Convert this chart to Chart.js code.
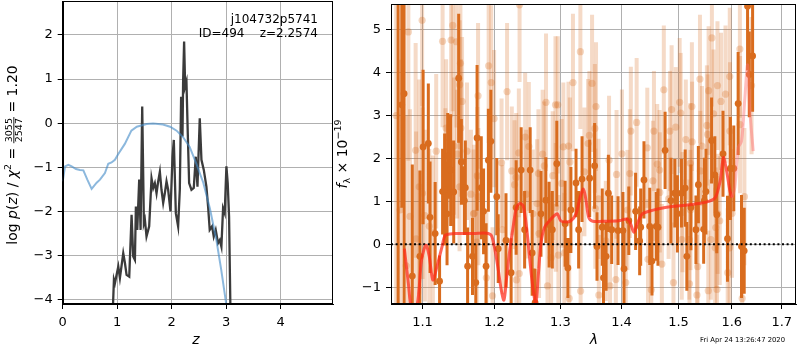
<!DOCTYPE html>
<html>
<head>
<meta charset="utf-8">
<script src="https://cdn.jsdelivr.net/npm/chart.js@4.4.0/dist/chart.umd.min.js"></script>
<style>
  html, body { margin: 0; padding: 0; background: #fff; }
  #wrap { position: relative; width: 800px; height: 350px; overflow: hidden; }
  canvas { position: absolute; top: 0; }
</style>
</head>
<body>
<div id="wrap">
  <canvas id="pz" width="340" height="350" style="left:0"></canvas>
  <canvas id="spec" width="472" height="350" style="left:328px"></canvas>
</div>
<script>
// ---- left panel: log p(z) ----
const zTicks = [0, 1, 2, 3, 4];
const logpTicks = [-4, -3, -2, -1, 0, 1, 2];

// prior / template p(z) (light blue)
const pzBlueZ = [0, 0.043, 0.104, 0.165, 0.244, 0.317, 0.379, 0.452, 0.531, 0.623, 0.684, 0.775, 0.836, 0.897, 0.958,
  1.02, 1.14, 1.26, 1.36, 1.54, 1.66, 1.84, 1.97, 2.09, 2.21, 2.33, 2.45, 2.58, 2.70, 2.82, 2.91, 2.99, 3.03];
const pzBlueLog = [-1.32, -0.98, -0.945, -0.98, -1.04, -1.06, -1.07, -1.28, -1.49, -1.35, -1.28, -1.13, -0.92, -0.89, -0.83,
  -0.70, -0.47, -0.17, -0.08, -0.02, -0.01, -0.03, -0.08, -0.17, -0.32, -0.54, -0.91, -1.35, -1.93, -2.65, -3.33, -4.01, -4.31];

// fitted log p(z) (dark)
const pzDarkZ = [0.912, 0.940, 0.958, 1.020, 1.050, 1.111, 1.142, 1.172, 1.221, 1.264, 1.294, 1.325, 1.343, 1.368, 1.404,
  1.429, 1.459, 1.490, 1.508, 1.538, 1.587, 1.630, 1.661, 1.691, 1.722, 1.752, 1.783, 1.813, 1.844, 1.874, 1.905, 1.935,
  1.978, 2.015, 2.039, 2.076, 2.118, 2.149, 2.173, 2.198, 2.210, 2.228, 2.247, 2.271, 2.295, 2.320, 2.363, 2.405, 2.442,
  2.473, 2.515, 2.546, 2.589, 2.637, 2.668, 2.698, 2.741, 2.772, 2.808, 2.851, 2.882, 2.912, 2.943, 2.973, 3.004, 3.028,
  3.053, 3.077, 3.095];
const pzDarkLog = [-4.5, -3.55, -3.63, -3.25, -3.51, -2.95, -3.17, -3.44, -3.48, -2.08, -3.02, -3.10, -1.89, -2.42, -1.28,
  -2.42, 0.38, -2.27, -2.19, -2.57, -2.34, -1.25, -1.47, -1.36, -1.59, -1.32, -1.10, -1.51, -1.81, -1.59, -1.32, -1.51,
  -2.00, -0.76, -0.38, -2.04, -2.34, -1.51, 0.60, -0.30, 0.98, 1.85, 0.83, 0.94, -0.23, -1.36, -1.51, -1.47, -0.76,
  -1.44, 0.11, -0.83, -1.06, -1.44, -1.89, -2.42, -2.34, -2.57, -2.42, -2.72, -2.65, -2.80, -1.93, -2.04, -0.98, -1.36,
  -2.12, -4.16, -4.7];

// ---- right panel: spectrum ----
const lamTicks = [1.1, 1.2, 1.3, 1.4, 1.5, 1.6, 1.7];
const fluxTicks = [-1, 0, 1, 2, 3, 4, 5];

// binned spectrum points (dark orange)
const darkLam = [1.068, 1.0727, 1.0757, 1.0865, 1.0965, 1.1008, 1.1078, 1.123, 1.1271, 1.1299, 1.1341, 1.1382, 1.1424,
  1.1493, 1.153, 1.1572, 1.1618, 1.1687, 1.1734, 1.1752, 1.1845, 1.1881, 1.1914, 1.195, 1.2036, 1.2057, 1.2247, 1.2397,
  1.2449, 1.2533, 1.2563, 1.2608, 1.2773, 1.2824, 1.2874, 1.2944, 1.3119, 1.3167, 1.3249, 1.3291, 1.3346, 1.347, 1.3551,
  1.359, 1.3697, 1.3741, 1.3779, 1.3834, 1.3941, 1.4042, 1.4124, 1.4241, 1.4311, 1.4386, 1.4526, 1.4601, 1.4759, 1.4934,
  1.5054, 1.5123, 1.5153, 1.5321, 1.5366, 1.5465, 1.5508, 1.5614, 1.5676, 1.5713, 1.5832, 1.5918, 1.5974, 1.604, 1.6125,
  1.6191, 1.6244, 1.631, 1.6344, 1.641,
  1.3075, 1.3677, 1.4024, 1.4329, 1.4487, 1.4632, 1.4864, 1.4981, 1.5228, 1.5478, 1.1812, 1.2171, 1.2322, 1.2698,
  1.1101, 1.1170, 1.1332, 1.1586];
const darkFlux = [7.0, 3.25, 3.51, -0.74, -0.28, 2.27, 2.35, -0.86, 1.23, 1.28, 2.06, 1.73, 1.22, 3.87, 1.92, 1.02, -0.51,
  -0.28, -0.89, 2.48, 0.77, -0.51, 1.96, 2.40, 1.11, -0.10, -0.66, 1.73, 0.34, 1.73, -0.20, -1.36, 1.03, 0.46, 0.34, 1.88,
  -0.55, 0.80, 1.43, 0.34, 1.52, 1.54, 1.83, -0.05, -0.78, -0.28, 1.19, 0.34, 0.32, -0.57, 0.55, 0.77, 0.08, 1.50, -0.39,
  0.42, 2.19, 1.19, 1.19, 1.31, -0.28, 0.34, 1.39, 0.35, 1.23, 2.42, 1.62, 0.69, 2.11, 0.13, 1.77, 1.77, 3.28, -0.05,
  -0.15, 5.55, 3.96, 4.39,
  0.48, 0.40, 0.32, 0.40, 0.42, 0.40, 1.02, 0.71, 0.86, 1.02, 1.32, 0.09, 0.86, 0.71, 0.63, 0.25, 0.71, 1.32];
const darkErr = [9, 2.4, 5, 2.6, 2.0, 1.8, 1.4, 0.6, 1.0, 1.3, 1.0, 1.3, 1.2, 1.5, 1.0, 0.8, 0.9, 0.9, 0.9, 1.7, 1.0, 1.0,
  1.2, 1.2, 0.9, 0.8, 0.8, 1.0, 0.9, 1.0, 1.0, 0.8, 1.0, 1.0, 0.9, 1.0, 0.7, 1.0, 0.8, 0.9, 1.0, 0.9, 1.0, 0.8, 0.8, 0.8,
  0.9, 0.8, 0.8, 0.9, 0.8, 0.9, 0.8, 0.9, 0.8, 0.8, 0.9, 0.8, 0.8, 0.9, 0.8, 0.8, 0.9, 0.8, 1.0, 1.0, 0.9, 0.9, 1.0, 1.0,
  1.2, 1.0, 1.2, 1.2, 1.0, 1.5, 1.0, 1.3,
  1.0, 0.9, 0.9, 0.9, 0.9, 0.9, 1.0, 0.9, 1.0, 1.0, 1.2, 1.1, 1.1, 1.0, 1.3, 1.2, 1.2, 1.1];

// individual pixels (faint)
const lightLam = [1.0655, 1.0705, 1.0785, 1.0995, 1.0813, 1.1271, 1.1410, 1.1388, 1.1461, 1.1517, 1.1507, 1.1540, 1.1319,
  1.1524, 1.0909, 1.1184, 1.1428, 1.1471, 1.1609, 1.0956, 1.1000, 1.1505, 1.1665, 1.0835, 1.1032, 1.1091, 1.1139, 1.0915,
  1.1701, 1.1309, 1.2373, 1.1918, 1.1955, 1.1766, 1.2187, 1.2776, 1.2923, 1.1997, 1.2457, 1.2513, 1.2724, 1.2106, 1.2749,
  1.2362, 1.2257, 1.2322, 1.2659, 1.2880, 1.2298, 1.1756, 1.1770, 1.1711, 1.2121, 1.1748, 1.2472, 1.2638, 1.2574, 1.2928,
  1.1885, 1.2326, 1.2368, 1.1974, 1.2799, 1.2668, 1.2855, 1.3319, 1.3200, 1.3509, 1.2959, 1.3574, 1.4259, 1.3555, 1.4159,
  1.3465, 1.3444, 1.3128, 1.3047, 1.4007, 1.3151, 1.3790, 1.3384, 1.3916, 1.4142, 1.3021, 1.3616, 1.3562, 1.4101, 1.2969,
  1.3063, 1.3736, 1.3904, 1.3323, 1.3620, 1.3806, 1.4072, 1.3140, 1.5620, 1.5396, 1.5726, 1.5558, 1.4736, 1.5022, 1.5246,
  1.4876, 1.5651, 1.5041, 1.5526, 1.4951, 1.4561, 1.4846, 1.5539, 1.5134, 1.5250, 1.5433, 1.4444, 1.5216, 1.4619, 1.4661,
  1.5403, 1.4543, 1.4665, 1.4822, 1.5073, 1.5220, 1.5730, 1.5694, 1.5601, 1.5683, 1.5060, 1.5198, 1.4456, 1.4701, 1.5353,
  1.5202, 1.4909, 1.4514, 1.5340, 1.5552, 1.5717, 1.6159, 1.5962, 1.5880, 1.5794, 1.6163, 1.5966, 1.6248, 1.6006, 1.5769,
  1.5958, 1.5922, 1.6204, 1.6389];
const lightFlux = [3.0, 0.8, -0.5, 5.22, 4.95, 4.73, 5.10, 4.76, 4.72, 4.22, 3.72, 3.33, 2.71, 2.71, 2.19, 2.17, 2.29, 2.10,
  2.17, 1.34, 1.19, 1.34, 1.17, 0.65, 0.67, 0.42, 0.27, 0.13, 0.71, 1.57, 5.58, 4.16, 3.77, 3.46, 3.56, 3.31, 3.25, 2.93,
  2.50, 2.28, 2.10, 1.90, 1.83, 2.13, 1.71, 1.56, 1.65, 1.60, 1.39, 1.60, 1.11, 0.72, 0.34, 0.05, 1.17, 0.95, 0.71, 0.86,
  -0.78, -0.83, -0.68, -1.20, -0.97, 0.25, -0.31, 4.49, 3.77, 3.75, 3.25, 3.21, 2.84, 2.70, 2.64, 2.54, 2.35, 2.29, 2.27,
  2.11, 1.92, 1.96, 1.69, 1.63, 1.65, 1.42, 1.06, 0.83, 0.80, -0.25, -0.20, 0.08, -0.82, -1.09, -1.18, -0.97, -0.89, -1.26,
  4.81, 3.85, 3.70, 3.58, 3.60, 3.31, 3.21, 3.14, 3.04, 3.06, 2.77, 2.73, 2.64, 2.64, 2.56, 2.44, 2.39, 2.29, 2.25, 1.89,
  1.87, 1.73, 1.71, 1.48, 1.21, 1.06, 0.75, 0.80, 0.71, 0.39, 0.11, -0.08, 0.11, 0.11, -0.35, -0.46, -0.52, -0.92, -0.89,
  -1.06, -1.18, -1.08, -1.05, 4.55, 3.91, 3.50, 3.33, 2.79, 2.64, 1.11, 0.72, 0.55, -0.08, -0.66, -1.26, 3.70];
const lightErr = [4.5, 3.5, 3.5, 2.0, 3.0, 2.0, 2.0, 1.8, 2.0, 1.8, 1.5, 1.5, 1.6, 1.6, 2.5, 1.8, 1.6, 1.5, 1.6, 2.5, 2.0,
  1.5, 1.5, 2.5, 2.0, 1.8, 1.8, 2.5, 1.5, 1.6, 1.8, 1.8, 1.8, 1.7, 1.6, 1.6, 1.6, 1.6, 1.5, 1.5, 1.5, 1.5, 1.5, 1.5, 1.5,
  1.5, 1.5, 1.5, 1.5, 1.6, 1.6, 1.6, 1.5, 1.6, 1.5, 1.5, 1.5, 1.5, 1.6, 1.5, 1.5, 1.6, 1.5, 1.5, 1.5, 1.8, 1.6, 1.6, 1.6,
  1.5, 1.5, 1.5, 1.5, 1.5, 1.5, 1.5, 1.5, 1.5, 1.5, 1.5, 1.5, 1.5, 1.5, 1.5, 1.4, 1.4, 1.4, 1.4, 1.4, 1.4, 1.4, 1.4, 1.4,
  1.4, 1.4, 1.4, 1.6, 1.5, 1.5, 1.5, 1.5, 1.5, 1.5, 1.5, 1.5, 1.4, 1.4, 1.4, 1.4, 1.4, 1.4, 1.4, 1.4, 1.4, 1.4, 1.4, 1.4,
  1.4, 1.4, 1.4, 1.4, 1.4, 1.4, 1.4, 1.4, 1.4, 1.4, 1.4, 1.4, 1.4, 1.4, 1.4, 1.4, 1.4, 1.4, 1.4, 1.4, 1.4, 1.4, 1.6, 1.6,
  1.6, 1.6, 1.6, 1.6, 1.6, 1.5, 1.5, 1.5, 1.5, 1.6, 1.6];

// best-fit model (red) and its extension past the fit range (pink)
const modelLam = [1.0761, 1.0813, 1.0857, 1.0930, 1.0987, 1.1046, 1.1091, 1.1139, 1.1194, 1.1263, 1.1309, 1.1424, 1.1701,
  1.1886, 1.1955, 1.2001, 1.2051, 1.2101, 1.2141, 1.2177, 1.2226, 1.2276, 1.2327, 1.2377, 1.2427, 1.2478, 1.2528, 1.2578,
  1.2619, 1.2659, 1.2698, 1.2754, 1.2829, 1.2905, 1.2955, 1.3005, 1.3086, 1.3167, 1.3249, 1.3314, 1.3368, 1.3411, 1.3454,
  1.3519, 1.3736, 1.3953, 1.4094, 1.4154, 1.4212, 1.4270, 1.4357, 1.4474, 1.4649, 1.4882, 1.5124, 1.5373, 1.5560, 1.5685,
  1.5778, 1.5840, 1.5901, 1.5964, 1.6006];
const modelFlux = [-0.10, -0.91, -1.5, -1.4, -0.37, -0.02, -0.29, -0.83, -0.52, -0.06, 0.21, 0.25, 0.25, 0.26, 0.21, -0.06,
  -0.52, -1.06, -1.3, -0.83, -0.14, 0.40, 0.86, 0.95, 0.90, 0.40, -0.37, -1.06, -1.40, -0.68, 0.02, 0.40, 0.55, 0.67, 0.71,
  0.55, 0.52, 0.55, 0.71, 1.09, 1.29, 1.02, 0.63, 0.54, 0.54, 0.55, 0.59, 0.48, 0.28, 0.48, 0.71, 0.77, 0.83, 0.88, 0.91,
  0.95, 1.00, 1.09, 1.48, 2.02, 1.71, 1.25, 1.09];
const extLam = [1.6006, 1.6060, 1.6125, 1.6191, 1.6257, 1.6310, 1.6356, 1.6422];
const extFlux = [1.09, 1.32, 2.25, 2.40, 3.41, 4.18, 3.10, 2.17];

const lamMin = 1.0588, lamMax = 1.7296;

// ---- helpers ----
const pts = (xs, ys) => xs.map((x, i) => ({ x, y: ys[i] }));
const errSegs = (xs, ys, es) => xs.flatMap((x, i) => [
  { x, y: ys[i] - es[i] }, { x, y: ys[i] + es[i] }, { x, y: null }
]);
const minus = v => (v < 0 ? '\u2212' : '') + Math.abs(v);
const tickFont = { family: 'DejaVu Sans', size: 13 };
const gridOpts = { color: '#b0b0b0', lineWidth: 1, tickColor: '#000', tickLength: 5, tickWidth: 1 };
const borderOpts = { color: '#000', width: 1 };

// keep the plot box where matplotlib put it: no extra label padding
function fixX(s) { s.height = 46; s.paddingLeft = 0; s.paddingRight = 0; }
function fixY(w) { return s => { s.width = w; s.paddingTop = 0; s.paddingBottom = 0; }; }

const frame = {
  id: 'frame',
  afterDatasetsDraw(chart) {
    const { ctx, chartArea: a } = chart;
    ctx.save();
    ctx.strokeStyle = '#000';
    ctx.lineWidth = 1;
    const l = Math.round(a.left) + 0.5, t = Math.round(a.top) + 0.5;
    const r = Math.round(a.right) - 0.5, b = Math.round(a.bottom) - 0.5;
    ctx.strokeRect(l, t, r - l, b - t);
    ctx.restore();
  }
};

// rotated label made of pieces (normal, italic, sub/superscript, fraction)
function txt(t, f, dy) {
  return {
    measure(ctx) { ctx.font = f; return ctx.measureText(t).width; },
    draw(ctx, x) { ctx.font = f; ctx.fillText(t, x, dy || 0); }
  };
}
function frac(n, d, f) {
  return {
    measure(ctx) { ctx.font = f; return Math.max(ctx.measureText(n).width, ctx.measureText(d).width) + 2; },
    draw(ctx, x, w) {
      ctx.font = f;
      ctx.textAlign = 'center';
      ctx.fillText(n, x + w / 2, -4.6);
      ctx.fillText(d, x + w / 2, 4.6);
      ctx.textAlign = 'left';
      ctx.fillRect(x, -3.6, w, 0.9);
    }
  };
}
function drawVertical(ctx, parts, baseX, cy) {
  ctx.save();
  ctx.translate(baseX, cy);
  ctx.rotate(-Math.PI / 2);
  ctx.fillStyle = '#000';
  ctx.textAlign = 'left';
  ctx.textBaseline = 'alphabetic';
  const ws = parts.map(p => p.measure(ctx));
  let x = -ws.reduce((a, b) => a + b, 0) / 2;
  parts.forEach((p, i) => { p.draw(ctx, x, ws[i]); x += ws[i]; });
  ctx.restore();
}

const F = '14px "DejaVu Sans"', FI = 'italic 14px "DejaVu Sans"', FS = '9.5px "DejaVu Sans"';

const pzText = {
  id: 'pzText',
  afterDraw(chart) {
    const ctx = chart.ctx;
    ctx.save();
    ctx.fillStyle = '#000';
    ctx.font = '12px "DejaVu Sans"';
    ctx.textAlign = 'right';
    ctx.textBaseline = 'middle';
    ctx.fillText('j104732p5741', 318, 20);
    ctx.fillText('ID=494    z=2.2574', 318, 34);
    ctx.textAlign = 'center';
    ctx.font = FI;
    ctx.fillText('z', 196, 340);
    ctx.restore();
    drawVertical(ctx, [
      txt('log ', F), txt('p', FI), txt('(', F), txt('z', FI), txt(') / ', F), txt('\u03c7', FI),
      txt('2', FS, -6), txt(' = ', F), frac('3055', '2547', FS), txt(' = 1.20', F)
    ], 17, 155);
  }
};

const specText = {
  id: 'specText',
  afterDraw(chart) {
    const ctx = chart.ctx;
    ctx.save();
    ctx.fillStyle = '#000';
    ctx.textAlign = 'center';
    ctx.textBaseline = 'middle';
    ctx.font = FI;
    ctx.fillText('\u03bb', 266, 340);
    ctx.font = '6.8px "DejaVu Sans"';
    ctx.textAlign = 'left';
    ctx.fillText('Fri Apr 24 13:26:47 2020', 372, 340);
    ctx.restore();
    drawVertical(ctx, [
      txt('f', FI), txt('\u03bb', FS, 3), txt(' \u00d7 10', F), txt('\u221219', FS, -6)
    ], 19, 154);
  }
};

// ---- left chart ----
new Chart(document.getElementById('pz'), {
  type: 'scatter',
  data: {
    datasets: [
      { data: pts(pzBlueZ, pzBlueLog), showLine: true, borderColor: 'rgba(70,140,200,0.62)', borderWidth: 2,
        pointRadius: 0, order: 1, clip: 0 },
      { data: pts(pzDarkZ, pzDarkLog), showLine: true, borderColor: '#3b3b3b', borderWidth: 2.3,
        pointRadius: 0, order: 2, clip: 0 }
    ]
  },
  options: {
    responsive: false, animation: false, devicePixelRatio: 1,
    layout: { padding: { top: 1, right: 7, left: 0, bottom: 0 } },
    plugins: { legend: { display: false }, tooltip: { enabled: false } },
    scales: {
      x: {
        type: 'linear', min: 0, max: 4.96,
        afterFit: fixX,
        afterBuildTicks: s => { s.ticks = zTicks.map(v => ({ value: v })); },
        ticks: { font: tickFont, color: '#000', padding: 5.5, maxRotation: 0, autoSkip: false, callback: v => minus(v) },
        grid: gridOpts, border: borderOpts
      },
      y: {
        type: 'linear', min: -4.1, max: 2.77,
        afterFit: fixY(62.7),
        afterBuildTicks: s => { s.ticks = logpTicks.map(v => ({ value: v })); },
        ticks: { font: tickFont, color: '#000', padding: 5, autoSkip: false, callback: v => minus(v) },
        grid: gridOpts, border: borderOpts
      }
    }
  },
  plugins: [frame, pzText]
});

// ---- right chart ----
const faint = 'rgba(217,108,30,0.25)';
const solid = 'rgb(217,108,30)';
new Chart(document.getElementById('spec'), {
  type: 'scatter',
  data: {
    datasets: [
      { data: errSegs(lightLam, lightFlux, lightErr), showLine: true, spanGaps: false, segment: {},
        borderColor: faint, borderWidth: 4, borderCapStyle: 'butt', pointRadius: 0, order: 10, clip: 0 },
      { data: pts(lightLam, lightFlux), backgroundColor: 'rgba(217,108,30,0.28)', borderWidth: 0,
        pointRadius: 3.6, order: 9, clip: 0 },
      { data: errSegs(darkLam, darkFlux, darkErr), showLine: true, spanGaps: false,
        borderColor: solid, borderWidth: 3, borderCapStyle: 'butt', pointRadius: 0, order: 8, clip: 0 },
      { data: pts(darkLam, darkFlux), backgroundColor: solid, borderWidth: 0, pointRadius: 3.4, order: 7, clip: 0 },
      { data: [{ x: lamMin, y: 0 }, { x: lamMax, y: 0 }], showLine: true, borderColor: '#000', borderWidth: 2,
        borderDash: [2, 2.6], pointRadius: 0, order: 6, clip: 0 },
      { data: pts(modelLam, modelFlux), showLine: true, borderColor: 'rgba(255,40,25,0.72)', borderWidth: 3,
        tension: 0.3, pointRadius: 0, order: 5, clip: 0 },
      { data: pts(extLam, extFlux), showLine: true, borderColor: 'rgba(255,110,110,0.45)', borderWidth: 3,
        tension: 0.3, pointRadius: 0, order: 4, clip: 0 }
    ]
  },
  options: {
    responsive: false, animation: false, devicePixelRatio: 1,
    layout: { padding: { top: 1, right: 1, left: 0, bottom: 0 } },
    plugins: { legend: { display: false }, tooltip: { enabled: false } },
    scales: {
      x: {
        type: 'logarithmic', min: lamMin, max: lamMax,
        afterFit: fixX,
        afterBuildTicks: s => { s.ticks = lamTicks.map(v => ({ value: v })); },
        ticks: { font: tickFont, color: '#000', padding: 5.5, maxRotation: 0, autoSkip: false,
                 callback: v => Number(v).toFixed(1) },
        grid: gridOpts, border: borderOpts
      },
      y: {
        type: 'linear', min: -1.39, max: 5.6,
        afterFit: fixY(63),
        afterBuildTicks: s => { s.ticks = fluxTicks.map(v => ({ value: v })); },
        ticks: { font: tickFont, color: '#000', padding: 5, autoSkip: false, callback: v => minus(v) },
        grid: gridOpts, border: borderOpts
      }
    }
  },
  plugins: [frame, specText]
});
</script>
</body>
</html>
